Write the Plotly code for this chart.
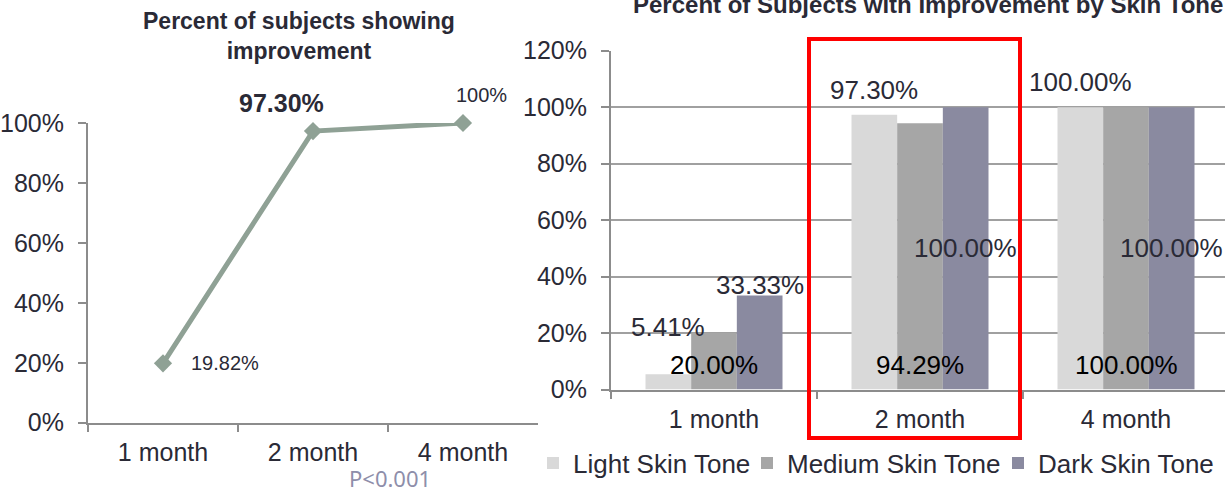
import plotly.graph_objects as go

# ---- data ----
months = ["1 month", "2 month", "4 month"]
overall_pct = [0.1982, 0.973, 1.0]

tone_names = ["Light Skin Tone", "Medium Skin Tone", "Dark Skin Tone"]
light_pct = [0.0541, 0.973, 1.0]
medium_pct = [0.20, 0.9429, 1.0]
dark_pct = [0.3333, 1.0, 1.0]

# ---- styling ----
W, H = 1225, 492
FONT = "Liberation Sans, Arial, sans-serif"
TXT = "#2a2a36"
AXIS = "#8c8c8c"
LINE_CLR = "#8fa195"
BAR_CLR = ["#d9d9d9", "#a6a6a6", "#8a8aa0"]


def px_x(p):
    return p / W


def px_y(p):
    return (H - p) / H


fig = go.Figure()

# left panel: overall improvement line
fig.add_trace(go.Scatter(
    x=months, y=overall_pct, mode="lines+markers",
    line=dict(color=LINE_CLR, width=5),
    marker=dict(symbol="diamond", size=14, color=LINE_CLR),
    cliponaxis=False, showlegend=False, xaxis="x", yaxis="y",
))

# right panel: grouped bars by skin tone
series = [light_pct, medium_pct, dark_pct]
for i, (name, vals) in enumerate(zip(tone_names, series)):
    fig.add_trace(go.Bar(
        x=months, y=vals, name=name, marker=dict(color=BAR_CLR[i], line=dict(width=0)),
        xaxis="x2", yaxis="y2", legend=["legend", "legend2", "legend3"][i],
    ))

annotations = []

# left panel value labels
annotations.append(dict(x=months[0], y=overall_pct[0], xref="x", yref="y",
                        text=f"{overall_pct[0]:.2%}", showarrow=False,
                        xanchor="left", yanchor="middle", xshift=26, yshift=0,
                        font=dict(family=FONT, size=20, color=TXT)))
annotations.append(dict(x=months[1], y=overall_pct[1], xref="x", yref="y",
                        text=f"<b>{overall_pct[1]:.2%}</b>", showarrow=False,
                        xanchor="center", yanchor="middle", xshift=-32, yshift=28,
                        font=dict(family=FONT, size=25, color=TXT)))
annotations.append(dict(x=months[2], y=overall_pct[2], xref="x", yref="y",
                        text=f"{overall_pct[2]:.0%}", showarrow=False,
                        xanchor="center", yanchor="middle", xshift=18, yshift=28,
                        font=dict(family=FONT, size=20, color=TXT)))

# right panel value labels
bar_w = 206 * (1 - 0.335) / 3
light_dy = [47, 25, 25]
for j, m in enumerate(months):
    annotations.append(dict(x=m, y=light_pct[j], xref="x2", yref="y2",
                            text=f"{light_pct[j]:.2%}", showarrow=False,
                            xanchor="center", yanchor="middle",
                            xshift=-bar_w, yshift=light_dy[j],
                            font=dict(family=FONT, size=26, color=TXT)))
    annotations.append(dict(x=m, y=0, xref="x2", yref="y2",
                            text=f"{medium_pct[j]:.2%}", showarrow=False,
                            xanchor="center", yanchor="middle",
                            xshift=0, yshift=24.5,
                            font=dict(family=FONT, size=26, color="#000000")))
    if j == 0:
        dy, yv = 10, dark_pct[j]
    else:
        dy, yv = 0, dark_pct[j] / 2
    annotations.append(dict(x=m, y=yv, xref="x2", yref="y2",
                            text=f"{dark_pct[j]:.2%}", showarrow=False,
                            xanchor="center", yanchor="middle",
                            xshift=bar_w, yshift=dy,
                            font=dict(family=FONT, size=26, color=TXT)))

# titles and footnote
annotations.append(dict(x=px_x(299), y=px_y(36), xref="paper", yref="paper",
                        text="<b>Percent of subjects showing<br>improvement</b>",
                        showarrow=False, xanchor="center", yanchor="middle",
                        font=dict(family=FONT, size=23, color=TXT)))
annotations.append(dict(x=px_x(928), y=px_y(4), xref="paper", yref="paper",
                        text="<b>Percent of Subjects with Improvement by Skin Tone</b>",
                        showarrow=False, xanchor="center", yanchor="middle",
                        font=dict(family=FONT, size=24, color=TXT)))
annotations.append(dict(x=px_x(390), y=px_y(478), xref="paper", yref="paper",
                        text="P<0.001", showarrow=False, xanchor="center", yanchor="middle",
                        font=dict(family="Noto Sans, sans-serif", size=22, color="#8e8eaa")))

axis_common = dict(showline=True, linecolor=AXIS, linewidth=2, ticks="outside",
                   tickcolor=AXIS, tickwidth=2, zeroline=False, automargin=False,
                   tickfont=dict(family=FONT, size=25, color=TXT))

legend_common = dict(orientation="h", xref="container", yref="container",
                     yanchor="middle", y=px_y(463), xanchor="left",
                     bgcolor="rgba(0,0,0,0)", borderwidth=0,
                     font=dict(family=FONT, size=26, color=TXT))

fig.update_layout(
    width=W, height=H, autosize=False,
    margin=dict(l=0, r=0, t=0, b=0, pad=0, autoexpand=False),
    paper_bgcolor="white", plot_bgcolor="white",
    barmode="group", bargap=0.335, bargroupgap=0,
    xaxis=dict(domain=[px_x(88), px_x(538)], type="category", range=[-0.5, 2.5],
               tickson="boundaries", ticklen=7, showgrid=False, anchor="y",
               ticklabelstandoff=6, **axis_common),
    yaxis=dict(domain=[px_y(422.7), px_y(123)], range=[0, 1], dtick=0.2,
               tickformat=".0%", ticklen=8, showgrid=False, anchor="x",
               ticklabelstandoff=9, **axis_common),
    xaxis2=dict(domain=[px_x(611), 1], type="category", range=[-0.5, 2.5 - 4 / 206],
                tickson="boundaries", ticklen=7, showgrid=False, anchor="y2",
                ticklabelstandoff=6, **axis_common),
    yaxis2=dict(domain=[px_y(389.5), px_y(50.7)], range=[0, 1.2], dtick=0.2,
                tickformat=".0%", ticklen=8, showgrid=True, gridcolor="#a0a0a0",
                gridwidth=2, anchor="x2", ticklabelstandoff=9, **axis_common),
    legend=dict(x=px_x(533), **legend_common),
    legend2=dict(x=px_x(747), **legend_common),
    legend3=dict(x=px_x(998), **legend_common),
    annotations=annotations,
    shapes=[dict(type="rect", xref="paper", yref="paper",
                 x0=px_x(809), x1=px_x(1020), y0=px_y(438), y1=px_y(39),
                 line=dict(color="#ff0000", width=4), fillcolor="rgba(0,0,0,0)",
                 layer="above")],
)

fig.write_html("out.html")
